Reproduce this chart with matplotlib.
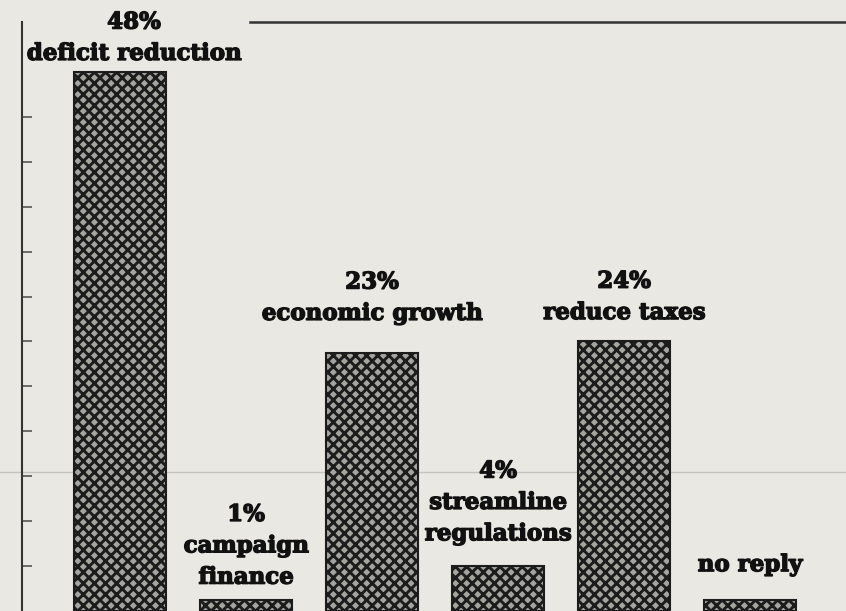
import matplotlib
matplotlib.use("Agg")
import matplotlib.pyplot as plt
import matplotlib.patheffects as pe

# survey answers, percent of respondents
categories = ["deficit reduction", "campaign\nfinance", "economic growth",
              "streamline\nregulations", "reduce taxes", "no reply"]
percent = [48, 1, 23, 4, 24, 1]
pct_labels = ["48%", "1%", "23%", "4%", "24%", ""]

# label placement above each bar (points)
label_gap = [5, 8, 20, 15, 12.5, 17]
label_shift = [10, 0, 0, 0, 0, 0]

paper = "#e9e8e3"
ink = "#1c1c1c"

plt.rcParams["hatch.linewidth"] = 2.1
plt.rcParams["font.family"] = ["DejaVu Serif"]

fig = plt.figure(figsize=(8.46, 6.11), dpi=100, facecolor=paper)
ax = fig.add_axes([0, 0, 1, 1])
ax.set_facecolor(paper)

x = list(range(len(categories)))
ax.bar(x, percent, width=0.73, facecolor="#a5a5a0", edgecolor=ink,
       hatch="xxx", linewidth=1.5, zorder=3)

for xi, val, pl, cat, gap, dx in zip(x, percent, pct_labels, categories,
                                     label_gap, label_shift):
    txt = cat if pl == "" else pl + "\n" + cat
    ax.annotate(txt, (xi, val), xytext=(dx, gap), textcoords="offset points",
                ha="center", va="bottom", fontsize=16.5, fontweight="heavy",
                color="#111111", linespacing=1.55, zorder=4,
                path_effects=[pe.withStroke(linewidth=1.0, foreground="#111111")])

ax.set_xlim(-0.952, 5.762)
ax.set_ylim(0, 54.4)

# left scale line with small inward ticks, top rule line
for s in ["top", "right", "bottom"]:
    ax.spines[s].set_visible(False)
ax.spines["left"].set_position(("data", -0.777))
ax.spines["left"].set_bounds(0, 52.4)
ax.spines["left"].set_linewidth(1.5)
ax.spines["left"].set_color("#333333")
ax.set_yticks(range(4, 48, 4))
ax.tick_params(axis="y", direction="in", length=7, width=1.2, color="#555555",
               labelleft=False)
ax.set_xticks([])
ax.axhline(52.4, xmin=0.296, xmax=1.0, color="#333333", linewidth=1.8)
ax.axhline(12.4, color="#c4c4bf", linewidth=1.0, zorder=1)

fig.savefig("out.png", dpi=100, facecolor=paper)
